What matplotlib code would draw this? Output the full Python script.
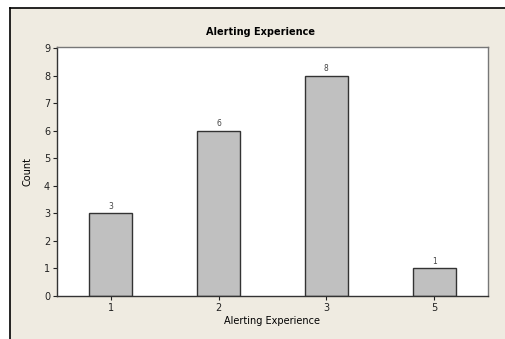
import matplotlib.pyplot as plt
import matplotlib.patches as patches

categories = ["1", "2", "3", "5"]
counts = [3, 6, 8, 1]

W, H = 505, 339
fig = plt.figure(figsize=(W / 100, H / 100), dpi=100)
fig.patch.set_facecolor("white")

# beige panel with black top/left border
bg = patches.Rectangle((10 / W, 0), 1, 1 - 8 / H, transform=fig.transFigure,
                       facecolor="#EFEBE1", edgecolor="none", zorder=-5)
fig.patches.append(bg)
fig.add_artist(plt.Line2D([10 / W, 1], [1 - 8 / H, 1 - 8 / H], color="black", lw=1.2))
fig.add_artist(plt.Line2D([10 / W, 10 / W], [0, 1 - 8 / H], color="black", lw=1.2))

left, right, top, bottom = 57, 488, 47, 296
ax = fig.add_axes([left / W, 1 - bottom / H, (right - left) / W, (bottom - top) / H])
ax.set_zorder(2)
ax.set_facecolor("white")

x = range(len(categories))
bars = ax.bar(x, counts, width=0.4, color="#C0C0C0", edgecolor="#333333", linewidth=1.0)
for xi, c in zip(x, counts):
    ax.text(xi, c + 0.1, str(c), ha="center", va="bottom", fontsize=5.5, color="#444444")

ax.set_xlim(-0.5, 3.5)
ax.set_ylim(0, 9.05)
ax.set_yticks(range(10))
ax.set_xticks(list(x))
ax.set_xticklabels(categories)
ax.tick_params(axis="both", direction="out", length=3, width=0.8, labelsize=7,
               colors="#222222", pad=2)
for s in ["left", "bottom"]:
    ax.spines[s].set_color("#333333")
    ax.spines[s].set_linewidth(1.0)
for s in ["right", "top"]:
    ax.spines[s].set_color("#777777")
    ax.spines[s].set_linewidth(1.0)

ax.set_xlabel("Alerting Experience", fontsize=7, labelpad=2)
ax.set_ylabel("Count", fontsize=7, labelpad=8)
fig.text(260 / W, 1 - 32 / H, "Alerting Experience", ha="center", va="center",
         fontsize=7, fontweight="bold")

fig.savefig("out.png", dpi=100)
